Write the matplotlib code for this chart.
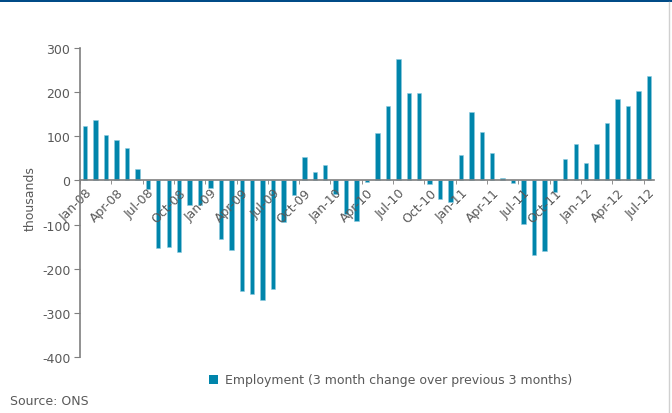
import numpy as np
import pandas as pd
import matplotlib
matplotlib.use("Agg")
import matplotlib.pyplot as plt
from matplotlib.patches import Patch, Rectangle
from matplotlib.lines import Line2D

# Monthly categories Jan-08 .. Jul-12
months = pd.date_range("2008-01-01", "2012-07-01", freq="MS").strftime("%b-%y").tolist()

# Employment, 3 month change over previous 3 months (thousands)
employment = [124, 138, 102, 91, 73, 25, -20, -154, -150, -162, -56, -55,
              -18, -133, -157, -251, -258, -272, -247, -95, -32, 54, 20, 35,
              -30, -75, -92, -3, 107, 168, 276, 199, 199, -8, -42, -48,
              58, 156, 109, 62, 6, -5, -98, -168, -160, -27, 48, 83,
              39, 82, 129, 184, 168, 203, 237]

y_ticks = [-400, -300, -200, -100, 0, 100, 200, 300]

plt.rcParams['font.family'] = ['DejaVu Sans']
grey = "#595959"
bar_col = "#0085AB"

fig = plt.figure(figsize=(6.72, 4.14), dpi=100)
ax = fig.add_axes([80 / 672, 1 - 358 / 414, 574 / 672, 309 / 414])

x = np.arange(len(months))
ax.bar(x, employment, width=0.42, color=bar_col, edgecolor="#8fcbe0", linewidth=0.4)

ax.set_xlim(-0.5, len(months) - 0.5)
ax.set_ylim(-400, 300)
ax.set_yticks(y_ticks)
ax.set_yticklabels([str(v) for v in y_ticks])

# x axis sits on the zero line
ax.spines['bottom'].set_position(('data', 0))
for s in ['top', 'right']:
    ax.spines[s].set_visible(False)
for s in ['left', 'bottom']:
    ax.spines[s].set_color("#7f7f7f")
    ax.spines[s].set_linewidth(1.2)

lab_idx = list(range(0, len(months), 3))
ax.set_xticks(lab_idx)
ax.set_xticklabels([months[i] for i in lab_idx], rotation=45, ha='right', va='top',
                   rotation_mode='anchor')
ax.set_xticks([i - 0.5 for i in lab_idx], minor=True)
ax.tick_params(axis='x', which='major', length=0, pad=4, labelsize=9, labelcolor=grey)
ax.tick_params(axis='x', which='minor', length=3, color="#7f7f7f", direction='out')
ax.tick_params(axis='y', length=4, color="#7f7f7f", labelsize=9, labelcolor=grey, pad=3)

fig.text(30 / 672, 1 - 199 / 414, "thousands", rotation=90, ha='center', va='center',
         fontsize=9, color=grey)

fig.legend(handles=[Patch(facecolor=bar_col, edgecolor='none')],
           labels=["Employment (3 month change over previous 3 months)"],
           loc='center left', bbox_to_anchor=(209 / 672, 1 - 381 / 414), frameon=False,
           handlelength=0.7, handleheight=0.7, handletextpad=0.6, fontsize=9,
           labelcolor=grey, borderaxespad=0, borderpad=0)

fig.text(10 / 672, 1 - 402 / 414, "Source: ONS", ha='left', va='center', fontsize=9, color=grey)

# top band and right border
fig.patches.append(Rectangle((0, 1 - 3 / 414), 1, 3 / 414, transform=fig.transFigure,
                             facecolor="#004B87", edgecolor='none'))
fig.lines.append(Line2D([669 / 672, 669 / 672], [0, 1 - 3 / 414], transform=fig.transFigure,
                        color="#d0d0d0", linewidth=1))

plt.savefig("out.png", dpi=100)
